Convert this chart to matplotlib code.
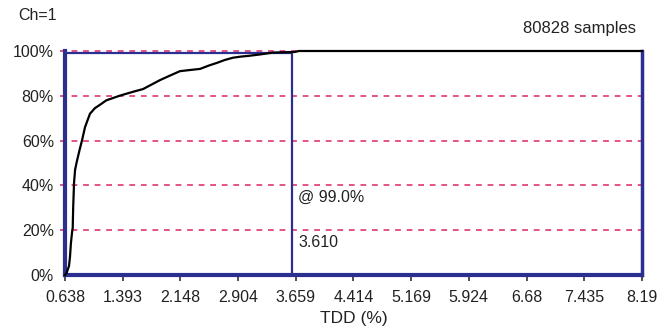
import matplotlib
matplotlib.use("Agg")
import matplotlib.pyplot as plt
import numpy as np

# CDF data (TDD %, cumulative %)
tdd = [0.638, 0.660, 0.690, 0.703, 0.715, 0.730, 0.739, 0.745, 0.756, 0.770, 0.795,
       0.830, 0.860, 0.900, 0.965, 1.030, 1.096, 1.180, 1.266, 1.350, 1.449,
       1.550, 1.659, 1.770, 1.881, 2.010, 2.143, 2.270, 2.405, 2.520, 2.627,
       2.730, 2.836, 2.940, 3.033, 3.200, 3.360, 3.580, 3.650, 3.700, 8.190]
cdf = [0.0, 1.0, 4.0, 8.0, 14.0, 19.0, 21.0, 30.0, 41.0, 47.0, 51.0,
       56.0, 60.0, 66.0, 72.0, 74.5, 76.0, 78.0, 79.0, 80.0, 81.0,
       82.0, 83.0, 85.0, 87.0, 89.0, 91.0, 91.5, 92.0, 93.5, 94.7,
       96.0, 97.0, 97.5, 97.8, 98.5, 99.3, 99.5, 99.6, 100.0, 100.0]

xticks = [0.638, 1.393, 2.148, 2.904, 3.659, 4.414, 5.169, 5.924, 6.68, 7.435, 8.19]
xtick_labels = ["0.638", "1.393", "2.148", "2.904", "3.659", "4.414", "5.169", "5.924", "6.68", "7.435", "8.19"]
yticks = [0, 20, 40, 60, 80, 100]
ytick_labels = ["0%", "20%", "40%", "60%", "80%", "100%"]
pct_level = 99.0
pct_value = 3.610
n_samples = 80828

plt.rcParams['font.family'] = ['Liberation Sans', 'DejaVu Sans']
navy = "#2b2f8f"
pink = "#e0457f"
txt = "#222222"

fig = plt.figure(figsize=(6.72, 3.35), dpi=100)
ax = fig.add_axes([65/672, 60/335, 577/672, 224/335])
ax.set_xlim(xticks[0], xticks[-1])
ax.set_ylim(0, 100)

# dashed gridlines
for yv in yticks[1:]:
    ax.plot([xticks[0] - 0.06, xticks[-1]], [yv, yv], color=pink, lw=1.3,
            ls=(0, (3.2, 3.2)), clip_on=False, zorder=1)

# CDF curve
ax.plot(tdd, cdf, color="black", lw=1.6, zorder=3, clip_on=False)

# percentile box
ax.plot([xticks[0], pct_value, pct_value], [pct_level, pct_level, 0], color=navy, lw=1.6, zorder=2)

# spines
ax.spines["top"].set_visible(False)
ax.spines["left"].set_color(navy)
ax.spines["left"].set_linewidth(3)
ax.spines["bottom"].set_color(navy)
ax.spines["bottom"].set_linewidth(3)
ax.spines["right"].set_color(navy)
ax.spines["right"].set_linewidth(2.5)

ax.set_xticks(xticks)
ax.set_xticklabels(xtick_labels, fontsize=11.5, color=txt)
ax.set_yticks(yticks)
ax.set_yticklabels(ytick_labels, fontsize=11.5, color=txt)
ax.tick_params(axis="x", direction="out", length=4, width=1.2, pad=7, color="#333333")
ax.tick_params(axis="y", length=0, pad=8)

ax.set_xlabel("TDD (%)", fontsize=12.5, labelpad=4, color=txt)

ax.text(pct_value + 0.08, 34.5, "@ %.1f%%" % pct_level, fontsize=11.5, va="center", ha="left", color=txt)
ax.text(pct_value + 0.08, 14.5, "%.3f" % pct_value, fontsize=11.5, va="center", ha="left", color=txt)

fig.text(18/672, 1 - 15/335, "Ch=1", fontsize=11.5, va="center", ha="left", color=txt)
fig.text(636/672, 1 - 28/335, "%d samples" % n_samples, fontsize=12, va="center", ha="right", color=txt)

ax.patch.set_alpha(0)
fig.savefig("out.png", dpi=100, facecolor="white")
